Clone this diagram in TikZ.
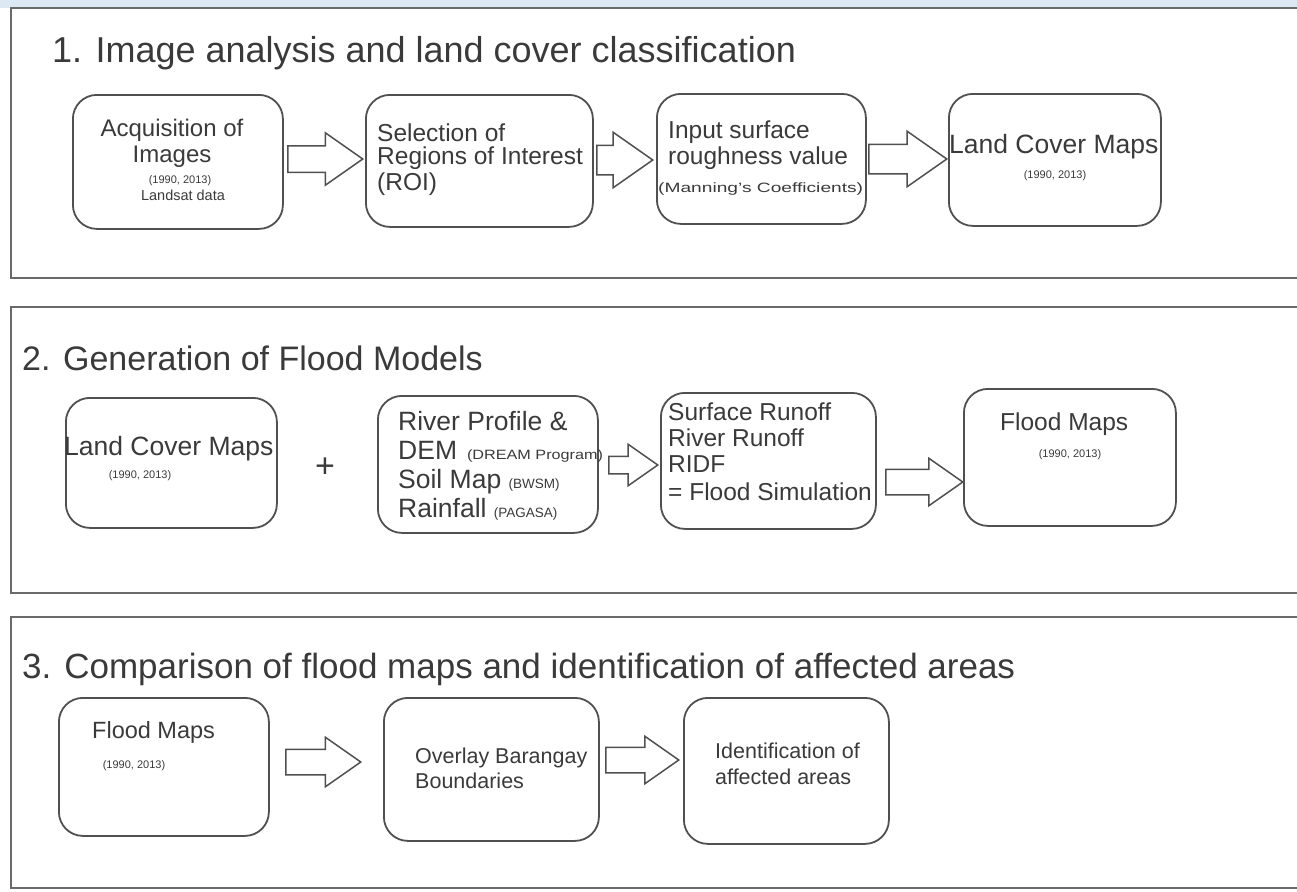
\documentclass[tikz,border=0pt]{standalone}
\usepackage{fontspec}
\usepackage{graphicx}
\setmainfont{Liberation Sans}
\usetikzlibrary{shapes.arrows}
\definecolor{edge}{HTML}{505050}
\definecolor{panelc}{HTML}{6A6A6A}
\definecolor{ink}{HTML}{3A3A3A}
\definecolor{strip}{HTML}{DCE8F4}
\tikzset{
  panel/.style={draw=panelc, line width=2.4pt},
  box/.style={draw=edge, line width=1.8pt, rounded corners=24pt, anchor=north west, inner sep=0pt},
  title/.style={text=ink, anchor=base west, inner sep=0pt},
  big/.style={text=ink, anchor=base west, inner sep=0pt, font=\fontsize{24.5}{29}\selectfont},
  mid/.style={text=ink, anchor=base west, inner sep=0pt, font=\fontsize{21.5}{26}\selectfont},
  tiny/.style={text=ink, anchor=base, inner sep=0pt, font=\fontsize{11}{13}\selectfont},
  blockarrow/.style={single arrow, draw=edge, fill=white, line width=1.5pt, anchor=west,
    single arrow tip angle=70}
}
\newcommand{\sm}[2][1]{{\fontsize{13.5}{15}\selectfont\scalebox{#1}[1]{#2}}}
\begin{document}
\begin{tikzpicture}[x=1pt,y=-1pt]
\useasboundingbox (0,0) rectangle (1297,891);
\fill[strip] (0,0) rectangle (1297,8);
% panels
\draw[panel] (1320,8) -- (11,8) -- (11,278) -- (1320,278);
\draw[panel] (1320,307) -- (11,307) -- (11,593) -- (1320,593);
\draw[panel] (1320,617) -- (11,617) -- (11,888) -- (1320,888);
% titles
\node[title, font=\fontsize{36}{42}\selectfont] (t1) at (52,63) {1. Image analysis and land cover classification};
\node[title, font=\fontsize{34}{40}\selectfont] (t2) at (22,370) {2. Generation of Flood Models};
\node[title, font=\fontsize{35}{41}\selectfont] (t3) at (22,678) {3. Comparison of flood maps and identification of affected areas};

% ---- section 1 ----
\node[box, minimum width=210pt, minimum height=134pt] (acq) at (72,94) {};
\node[box, minimum width=227pt, minimum height=132pt] (roi) at (365,94) {};
\node[box, minimum width=209pt, minimum height=130pt] (man) at (656,93) {};
\node[box, minimum width=212pt, minimum height=132pt] (lcm) at (948,93) {};

\node[text=ink, anchor=base, inner sep=0pt, font=\fontsize{24}{29}\selectfont] (acq1) at (172,136) {Acquisition of};
\node[text=ink, anchor=base, inner sep=0pt, font=\fontsize{24}{29}\selectfont] (acq2) at (172,162) {Images};
\node[tiny] (acq3) at (180,183) {(1990, 2013)};
\node[text=ink, anchor=base, inner sep=0pt, font=\fontsize{14.5}{17}\selectfont] (acq4) at (183,200) {Landsat data};

\node[big] (roi1) at (377,141) {Selection of};
\node[big] (roi2) at (377,164) {Regions of Interest};
\node[big] (roi3) at (377,190) {(ROI)};

\node[big] (man1) at (668,138) {Input surface};
\node[big] (man2) at (668,164) {roughness value};
\node[text=ink, anchor=base west, inner sep=0pt, font=\fontsize{13.5}{15}\selectfont] (man3) at (658,192) {\scalebox{1.42}[1]{(Manning's Coefficients)}};

\node[text=ink, anchor=base west, inner sep=0pt, font=\fontsize{26.5}{31}\selectfont] (lcm1) at (949,153) {Land Cover Maps};
\node[tiny] (lcm2) at (1055,178) {(1990, 2013)};

\node[blockarrow, minimum height=75pt, inner sep=12.5pt, single arrow head extend=13pt] (a1) at (287,159) {};
\node[blockarrow, minimum height=56pt, inner sep=14pt, single arrow head extend=13pt] (a2) at (596,160) {};
\node[blockarrow, minimum height=78pt, inner sep=14pt, single arrow head extend=13pt] (a3) at (868,159) {};

% ---- section 2 ----
\node[box, minimum width=211pt, minimum height=130pt] (lcm2b) at (65,397) {};
\node[box, minimum width=220pt, minimum height=137pt] (dem) at (377,395) {};
\node[box, minimum width=215pt, minimum height=136pt] (sim) at (660,392) {};
\node[box, minimum width=212pt, minimum height=137pt] (fm) at (963,388) {};

\node[text=ink, anchor=base west, inner sep=0pt, font=\fontsize{26.5}{31}\selectfont] (e1) at (64,455) {Land Cover Maps};
\node[tiny] (e2) at (140,478) {(1990, 2013)};
\node[text=ink, anchor=center, inner sep=0pt, font=\fontsize{34}{40}\selectfont] (plus) at (325,468) {+};

\node[text=ink, anchor=base west, inner sep=0pt, font=\fontsize{26.5}{31}\selectfont] (f1) at (398,430) {River Profile \&};
\node[text=ink, anchor=base west, inner sep=0pt, font=\fontsize{26.5}{31}\selectfont] (f2) at (398,459) {DEM\hspace{10pt}\sm[1.2]{(DREAM Program)}};
\node[text=ink, anchor=base west, inner sep=0pt, font=\fontsize{26.5}{31}\selectfont] (f3) at (398,488) {Soil Map \sm{(BWSM)}};
\node[text=ink, anchor=base west, inner sep=0pt, font=\fontsize{26.5}{31}\selectfont] (f4) at (398,517) {Rainfall \sm{(PAGASA)}};

\node[big] (g1) at (668,420) {Surface Runoff};
\node[big] (g2) at (668,446) {River Runoff};
\node[big] (g3) at (668,472) {RIDF};
\node[big] (g4) at (668,500) {= Flood Simulation};

\node[big] (h1) at (1000,430) {Flood Maps};
\node[tiny] (h2) at (1070,457) {(1990, 2013)};

\node[blockarrow, minimum height=49pt, inner sep=8pt, single arrow head extend=12pt] (a4) at (608,465) {};
\node[blockarrow, minimum height=77pt, inner sep=12pt, single arrow head extend=11pt] (a5) at (885,482) {};

% ---- section 3 ----
\node[box, minimum width=210pt, minimum height=138pt] (fm3) at (58,697) {};
\node[box, minimum width=215pt, minimum height=143pt] (ovl) at (383,697) {};
\node[box, minimum width=205pt, minimum height=146pt] (idf) at (683,697) {};

\node[text=ink, anchor=base west, inner sep=0pt, font=\fontsize{23.5}{28}\selectfont] (i1) at (92,738) {Flood Maps};
\node[tiny] (i2) at (134,768) {(1990, 2013)};

\node[mid] (j1) at (415,763) {Overlay Barangay};
\node[mid] (j2) at (415,788) {Boundaries};

\node[mid] (k1) at (715,758) {Identification of};
\node[mid] (k2) at (715,784) {affected areas};

\node[blockarrow, minimum height=75pt, inner sep=12pt, single arrow head extend=12pt] (a6) at (285,762) {};
\node[blockarrow, minimum height=73pt, inner sep=12pt, single arrow head extend=11pt] (a7) at (605,760) {};
\end{tikzpicture}
\end{document}
